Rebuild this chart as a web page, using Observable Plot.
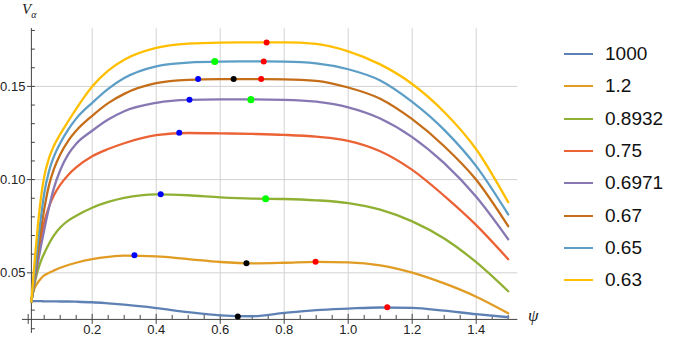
<!DOCTYPE html>
<html>
<head>
<meta charset="utf-8">
<script src="https://cdn.jsdelivr.net/npm/d3@7"></script>
<script src="https://cdn.jsdelivr.net/npm/@observablehq/plot@0.6"></script>
<style>
  html, body { margin: 0; padding: 0; background: #fff; }
  #wrap { position: relative; width: 675px; height: 338px; font-family: "Liberation Sans", Arial, sans-serif; }
  #chart svg { display: block; }
  .lab { position: absolute; font-style: italic; color: #222; font-family: "Liberation Serif", "DejaVu Serif", serif; }
  #legend { position: absolute; left: 564px; top: 0; }
  .row { position: absolute; left: 0; height: 24px; display: flex; align-items: center; white-space: nowrap; }
  .sw { display: inline-block; width: 29px; height: 2px; margin-right: 12px; }
  .row span.t { font-size: 19px; color: #111; }
</style>
</head>
<body>
<div id="wrap">
  <div id="chart"></div>
  <div class="lab" style="left:22px; top:1px; font-size:15px;">V<sub style="font-size:10px;">α</sub></div>
  <div class="lab" style="left:528px; top:306px; font-size:17px;">ψ</div>
  <div id="legend"></div>
</div>
<script>
// ---- data ----
const seriesNames = ["1000", "1.2", "0.8932", "0.75", "0.6971", "0.67", "0.65", "0.63"];
const psi = [0.01, 0.015, 0.02, 0.03, 0.04, 0.05, 0.065, 0.08, 0.1, 0.125, 0.15, 0.2, 0.25, 0.3, 0.4, 0.5, 0.6, 0.7, 0.8, 0.9, 1.0, 1.1, 1.2, 1.3, 1.4, 1.5];

const v1000   = [0.0348, 0.0348, 0.0348, 0.0348, 0.0348, 0.0347, 0.0347, 0.0347, 0.0346, 0.0346, 0.0345, 0.0342, 0.0336, 0.0329, 0.0311, 0.0289, 0.0272, 0.0267, 0.0285, 0.0300, 0.0308, 0.0314, 0.0312, 0.0297, 0.0278, 0.0262];
const v1_2    = [0.0350, 0.0392, 0.0418, 0.0448, 0.0470, 0.0486, 0.0500, 0.0512, 0.0527, 0.0542, 0.0554, 0.0573, 0.0585, 0.0592, 0.0588, 0.0573, 0.0558, 0.0551, 0.0554, 0.0559, 0.0556, 0.0540, 0.0501, 0.0443, 0.0372, 0.0283];
const v0_8932 = [0.0345, 0.0398, 0.0444, 0.0512, 0.0564, 0.0604, 0.0656, 0.0699, 0.0743, 0.0780, 0.0806, 0.0849, 0.0880, 0.0902, 0.0921, 0.0916, 0.0905, 0.0898, 0.0896, 0.0889, 0.0874, 0.0839, 0.0776, 0.0684, 0.0557, 0.0401];
const v0_75   = [0.0345, 0.0418, 0.0485, 0.0598, 0.0693, 0.0771, 0.0855, 0.0915, 0.0972, 0.1025, 0.1065, 0.1125, 0.1164, 0.1195, 0.1238, 0.1250, 0.1248, 0.1245, 0.1240, 0.1230, 0.1208, 0.1152, 0.1052, 0.0913, 0.0756, 0.0573];
const v0_6971 = [0.0345, 0.0400, 0.0453, 0.0553, 0.0645, 0.0730, 0.0850, 0.0953, 0.1050, 0.1135, 0.1192, 0.1262, 0.1322, 0.1367, 0.1412, 0.1428, 0.1430, 0.1430, 0.1428, 0.1418, 0.1388, 0.1328, 0.1228, 0.1088, 0.0908, 0.0680];
const v0_67   = [0.0345, 0.0410, 0.0475, 0.0605, 0.0730, 0.0840, 0.0970, 0.1055, 0.1135, 0.1208, 0.1262, 0.1342, 0.1410, 0.1460, 0.1517, 0.1535, 0.1539, 0.1539, 0.1538, 0.1530, 0.1494, 0.1434, 0.1324, 0.1179, 0.0999, 0.0750];
const v0_65   = [0.0345, 0.0425, 0.0500, 0.0660, 0.0800, 0.0925, 0.1045, 0.1122, 0.1195, 0.1268, 0.1327, 0.1412, 0.1487, 0.1545, 0.1608, 0.1628, 0.1633, 0.1634, 0.1633, 0.1624, 0.1592, 0.1532, 0.1417, 0.1267, 0.1072, 0.0813];
const v0_63   = [0.0345, 0.0455, 0.0560, 0.0750, 0.0905, 0.1015, 0.1115, 0.1180, 0.1243, 0.1313, 0.1380, 0.1500, 0.1585, 0.1643, 0.1706, 0.1729, 0.1735, 0.1736, 0.1736, 0.1728, 0.1688, 0.1618, 0.1513, 0.1363, 0.1163, 0.0879];
const seriesValues = [v1000, v1_2, v0_8932, v0_75, v0_6971, v0_67, v0_65, v0_63];

// marked points
const dotSeries = ["0.63", "0.65", "0.65", "0.67", "0.67", "0.67", "0.6971", "0.6971", "0.75", "0.8932", "0.8932", "1.2", "1.2", "1.2", "1000", "1000"];
const dotPsi    = [0.745, 0.583, 0.736, 0.531, 0.642, 0.728, 0.504, 0.696, 0.472, 0.414, 0.742, 0.332, 0.682, 0.898, 0.655, 1.122];
const dotV      = [0.1736, 0.1633, 0.1634, 0.1539, 0.1539, 0.1539, 0.1429, 0.1429, 0.1251, 0.0922, 0.0897, 0.0594, 0.0551, 0.0559, 0.0266, 0.0315];
const dotKind   = ["red", "green", "red", "blue", "black", "red", "blue", "green", "blue", "blue", "green", "blue", "black", "red", "black", "red"];

// axes
const xRange = [-0.018, 1.53];
const yRange = [0.0175, 0.181];
const xOrigin = 0.01, yOrigin = 0.025;
const xMajor = [0.2, 0.4, 0.6, 0.8, 1.0, 1.2, 1.4];
const xMajorTicks = [0, 0.2, 0.4, 0.6, 0.8, 1.0, 1.2, 1.4];
const xMinor = [0.05, 0.1, 0.15, 0.25, 0.3, 0.35, 0.45, 0.5, 0.55, 0.65, 0.7, 0.75, 0.85, 0.9, 0.95, 1.05, 1.1, 1.15, 1.25, 1.3, 1.35, 1.45, 1.5];
const yMajor = [0.05, 0.10, 0.15];
const yMinor = [0.02, 0.03, 0.04, 0.06, 0.07, 0.08, 0.09, 0.11, 0.12, 0.13, 0.14, 0.16, 0.17, 0.18];

// ---- build ----
const colors = ["#5E81B5", "#E19C24", "#8FB032", "#EB6235", "#8778B3", "#C56E1A", "#5D9EC7", "#FFBF00"];
const rows = [];
seriesNames.forEach((s, i) => psi.forEach((x, j) => rows.push({s, x, y: seriesValues[i][j]})));
const dots = dotSeries.map((s, i) => ({s, x: dotPsi[i], y: dotV[i], k: dotKind[i]}));
const kindColor = {red: "#FF0000", blue: "#0000FF", black: "#000000", green: "#00FF00"};

const pxX = 320, pxY = 1864; // pixels per data unit (for tick lengths)
const axisColor = "#444", gridColor = "#d2d2d2";

const chart = Plot.plot({
  width: 675,
  height: 338,
  x: {domain: xRange, range: [21.94, 517.3], axis: null},
  y: {domain: yRange, range: [332.9, 28.1], axis: null},
  style: {fontFamily: "'Liberation Sans', Arial, sans-serif"},
  marks: [
    Plot.ruleX(xMajor, {x: d => d, y1: yOrigin, y2: yRange[1], stroke: gridColor, strokeWidth: 1}),
    Plot.ruleY(yMajor, {y: d => d, x1: xOrigin, x2: xRange[1], stroke: gridColor, strokeWidth: 1}),
    Plot.ruleY([yOrigin], {x1: xRange[0], x2: xRange[1], stroke: axisColor, strokeWidth: 1}),
    Plot.ruleX([xOrigin], {y1: yRange[0], y2: yRange[1], stroke: axisColor, strokeWidth: 1}),
    Plot.ruleX(xMinor, {x: d => d, y1: yOrigin, y2: yOrigin + 4 / pxY, stroke: axisColor}),
    Plot.ruleX(xMajorTicks, {x: d => d, y1: yOrigin - 5 / pxY, y2: yOrigin + 5 / pxY, stroke: axisColor}),
    Plot.ruleY(yMinor, {y: d => d, x1: xOrigin, x2: xOrigin + 4 / pxX, stroke: axisColor}),
    Plot.ruleY(yMajor, {y: d => d, x1: xOrigin - 4 / pxX, x2: xOrigin + 4 / pxX, stroke: axisColor}),
    Plot.text(xMajor, {x: d => d, y: yOrigin, dy: 10, text: d => d3.format(".1f")(d), fontSize: 13, fill: "#222"}),
    Plot.text(yMajor, {x: xOrigin, y: d => d, dx: -6, textAnchor: "end", text: d => d3.format(".2f")(d), fontSize: 13, fill: "#222"}),
    Plot.line(rows, {x: "x", y: "y", z: "s", stroke: d => colors[seriesNames.indexOf(d.s)], strokeWidth: 2.3, curve: "monotone-x"}),
    Plot.dot(dots, {x: "x", y: "y", r: d => d.k === "green" ? 5.5 : 4, fill: d => kindColor[d.k], stroke: "none"})
  ]
});
document.getElementById("chart").appendChild(chart);

// legend
const leg = document.getElementById("legend");
seriesNames.forEach((s, i) => {
  const row = document.createElement("div");
  row.className = "row";
  row.style.top = (54 + i * 32.3 - 12) + "px";
  row.innerHTML = `<span class="sw" style="background:${colors[i]}"></span><span class="t">${s}</span>`;
  leg.appendChild(row);
});
</script>
</body>
</html>
